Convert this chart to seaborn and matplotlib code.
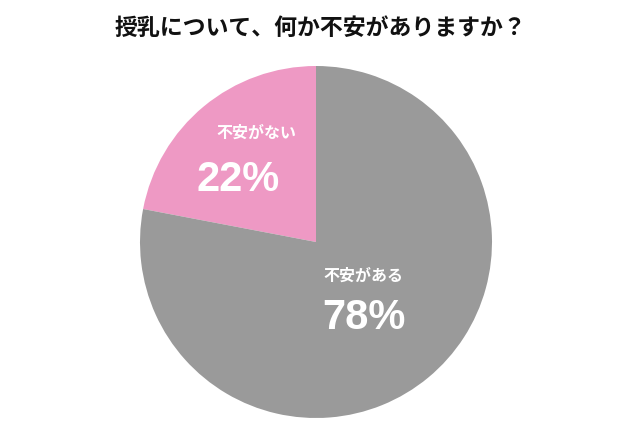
import matplotlib
matplotlib.use("Agg")
import matplotlib.pyplot as plt
import seaborn as sns

title = "授乳について、何か不安がありますか？"
categories = ["不安がない", "不安がある"]
values = [22, 78]
colors = ["#ee99c4", "#9a9a9a"]

sns.set_theme(style="white")
plt.rcParams['font.family'] = ['Noto Sans CJK JP', 'DejaVu Sans']

fig = plt.figure(figsize=(6.4, 4.4), dpi=100)
fig.patch.set_facecolor("white")
ax = fig.add_axes([0.21875, 0.05, 0.55, 0.8])

ax.pie(values, colors=sns.color_palette(colors), startangle=90, counterclock=True,
       wedgeprops=dict(linewidth=0))
ax.set_aspect("equal")
ax.set_xlim(-1, 1)
ax.set_ylim(-1, 1)
ax.axis("off")

label_pos = [(-0.34, 0.62), (0.27, -0.19)]
pct_pos = [(-0.44, 0.35), (0.27, -0.43)]
for cat, val, lp, pp in zip(categories, values, label_pos, pct_pos):
    ax.text(lp[0], lp[1], cat, ha="center", va="center", color="white",
            fontsize=11.5, fontweight="bold")
    ax.text(pp[0], pp[1], f"{val}%", ha="center", va="center", color="white",
            fontsize=30, fontweight="bold", family=["Liberation Sans", "DejaVu Sans"])

fig.text(0.5, 1 - 28 / 440, title, ha="center", va="center", fontsize=16.5,
         fontweight="bold", color="#111111")

fig.savefig("out.png", dpi=100, facecolor="white")
